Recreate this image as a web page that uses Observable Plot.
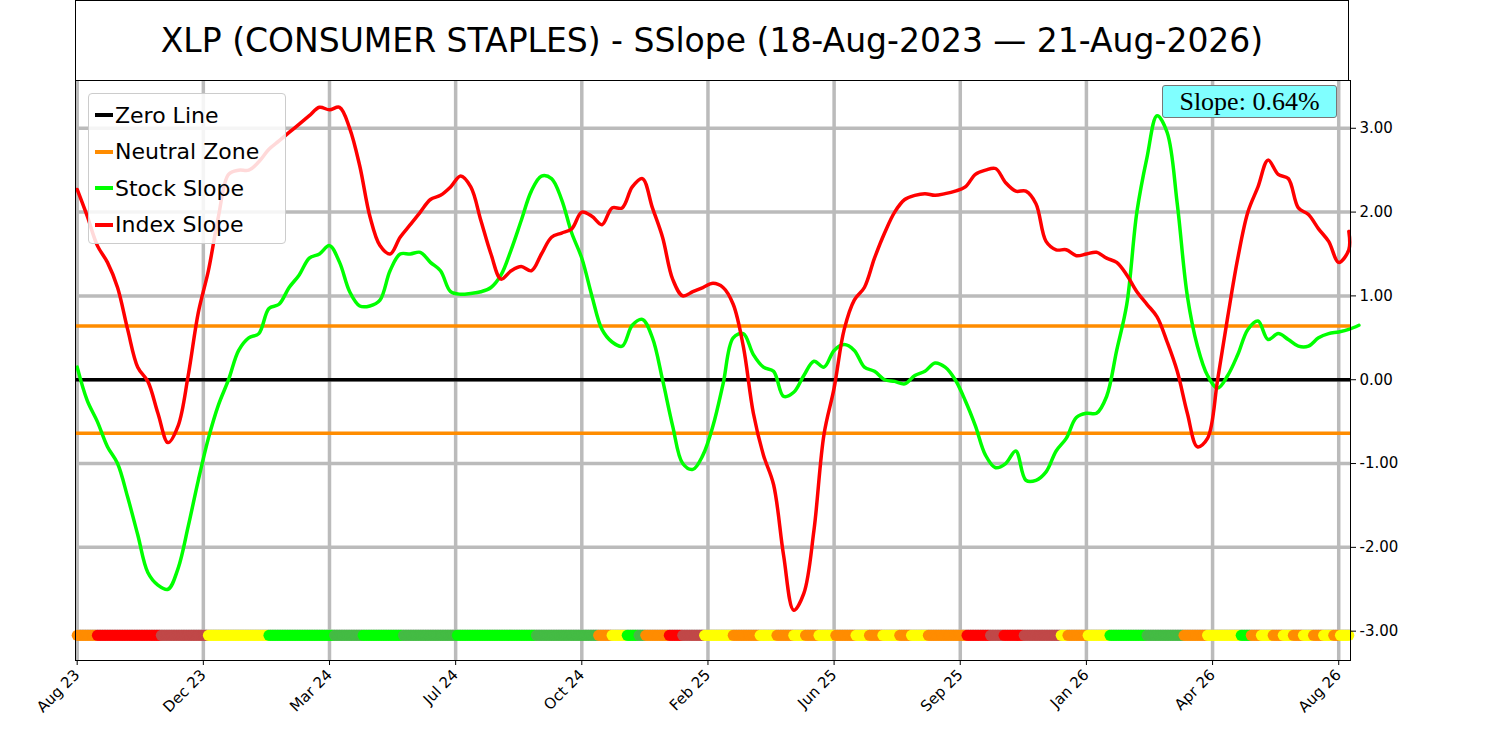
<!DOCTYPE html>
<html><head><meta charset="utf-8">
<script src="https://cdn.jsdelivr.net/npm/d3@7"></script>
<script src="https://cdn.jsdelivr.net/npm/@observablehq/plot@0.6"></script>
<style>
body{margin:0;background:#fff;font-family:"DejaVu Sans",sans-serif;}
#wrap{position:relative;width:1500px;height:741px;}
#title{position:absolute;left:75px;top:0;width:1274px;height:80px;border:1px solid #000;border-bottom:none;box-sizing:border-box;display:flex;align-items:center;justify-content:center;font-size:33px;z-index:2;}
#legend{position:absolute;left:88px;top:93px;width:198px;height:151px;border:1px solid #ccc;border-radius:4px;background:rgba(255,255,255,0.85);font-size:22px;box-sizing:border-box;padding:3px 0 0 6px;z-index:2;}
#legend div{height:36.5px;display:flex;align-items:center;}
#legend span.sw{display:inline-block;width:18px;height:4px;margin-right:2px;}
#slope{position:absolute;left:1162px;top:85px;width:175px;height:33px;background:#80ffff;border:1px solid #777;border-radius:3px;box-sizing:border-box;font-family:"Liberation Serif",serif;font-size:26px;display:flex;align-items:center;justify-content:center;z-index:2;}
svg{position:absolute;left:0;top:0;}
</style></head><body>
<div id="wrap"><div id="title">XLP (CONSUMER STAPLES) - SSlope (18-Aug-2023 — 21-Aug-2026)</div></div>
<script>
const step = 6;
const indexSlope = [2.27,1.95,1.60,1.40,1.10,0.60,0.15,-0.02,-0.40,-0.75,-0.55,0.05,0.80,1.30,1.95,2.45,2.50,2.50,2.60,2.75,2.85,2.95,3.05,3.15,3.25,3.22,3.25,3.00,2.55,1.95,1.60,1.50,1.70,1.85,2.00,2.15,2.20,2.30,2.43,2.30,1.90,1.50,1.20,1.30,1.35,1.30,1.50,1.70,1.75,1.80,2.00,1.95,1.85,2.05,2.05,2.30,2.40,2.05,1.70,1.20,1.00,1.05,1.10,1.15,1.10,0.90,0.40,-0.40,-0.90,-1.25,-2.10,-2.75,-2.55,-1.80,-0.65,-0.10,0.60,0.95,1.10,1.45,1.75,2.00,2.15,2.20,2.22,2.20,2.22,2.25,2.30,2.45,2.50,2.52,2.35,2.25,2.25,2.10,1.65,1.55,1.55,1.48,1.50,1.52,1.45,1.40,1.25,1.05,0.90,0.75,0.45,0.10,-0.40,-0.80,-0.70,0.00,0.75,1.45,2.00,2.30,2.62,2.45,2.40,2.05,1.97,1.80,1.65,1.40,1.55,1.77,1.77];
const stockSlope = [0.15,-0.25,-0.50,-0.80,-1.00,-1.40,-1.85,-2.30,-2.45,-2.50,-2.25,-1.75,-1.20,-0.70,-0.30,0.00,0.35,0.50,0.55,0.85,0.90,1.10,1.25,1.45,1.50,1.60,1.40,1.05,0.88,0.88,0.95,1.30,1.50,1.50,1.52,1.40,1.30,1.05,1.02,1.03,1.05,1.10,1.25,1.55,1.90,2.25,2.43,2.40,2.15,1.75,1.45,1.00,0.60,0.45,0.40,0.65,0.72,0.50,0.00,-0.55,-1.00,-1.07,-0.90,-0.55,-0.05,0.50,0.55,0.30,0.15,0.10,-0.20,-0.15,0.05,0.22,0.15,0.35,0.42,0.35,0.15,0.10,0.00,-0.02,-0.05,0.05,0.10,0.20,0.15,0.00,-0.25,-0.55,-0.90,-1.05,-1.00,-0.85,-1.20,-1.20,-1.10,-0.85,-0.70,-0.45,-0.40,-0.40,-0.20,0.35,0.90,2.00,2.65,3.15,2.95,2.10,1.00,0.40,0.05,-0.10,0.05,0.30,0.60,0.70,0.48,0.55,0.48,0.40,0.40,0.50,0.55,0.57,0.60,0.65];
const neutral = 0.64;
const tickLabels = ["Aug 23","Dec 23","Mar 24","Jul 24","Oct 24","Feb 25","Jun 25","Sep 25","Jan 26","Apr 26","Aug 26"];
const tickSpacing = 75;
const yTicks = [-3,-2,-1,0,1,2,3];
const stripRuns = [["o",11],["r",49],["b",77],["y",113],["g",152],["d",169],["g",193],["d",225],["g",272],["d",309],["o",317],["y",326],["g",333],["d",337],["o",351],["r",359],["b",372],["y",389],["o",405],["y",415],["o",425],["y",432],["o",440],["y",450],["o",462],["y",470],["o",478],["y",488],["o",495],["y",505],["o",528],["r",542],["b",550],["r",562],["b",584],["y",588],["o",600],["y",613],["g",635],["d",657],["o",671],["y",691],["g",697],["o",703],["y",710],["o",716],["y",722],["o",728],["y",734],["o",740],["y",746],["o",750],["y",756]];
const stripColors = {o:"#ff8c00",r:"#ff0000",b:"#c04848",y:"#ffff00",g:"#00ff00",d:"#44bb44"};

const red = indexSlope.map((v,i)=>({x:Math.min(i*step,756),v}));
const green = stockSlope.map((v,i)=>({x:i*step,v}));
const strip = [];
let s=0;
for (const [c,e] of stripRuns){ for(let i=s;i<=e;i++) strip.push({x:i,c:stripColors[c]}); s=e+1; }
const xt = tickLabels.map((_,i)=>i*tickSpacing);

const chart = Plot.plot({
  width:1500, height:741,
  marginTop:80, marginBottom:81, marginLeft:75, marginRight:150,
  x:{domain:[-1,757], axis:null},
  y:{domain:[-3.35,3.57], axis:null},
  style:{fontFamily:"DejaVu Sans", fontSize:"15px", color:"#000"},
  marks:[
    Plot.ruleY(yTicks,{stroke:"#bbb",strokeWidth:3.5}),
    Plot.ruleX(xt,{stroke:"#bbb",strokeWidth:3.5}),
    Plot.ruleY([neutral,-neutral],{stroke:"#ff8c00",strokeWidth:3.5}),
    Plot.ruleY([0],{stroke:"#000",strokeWidth:3.5}),
    Plot.line(green,{x:"x",y:"v",stroke:"#00ff00",strokeWidth:3.5,curve:"catmull-rom"}),
    Plot.line(red,{x:"x",y:"v",stroke:"#ff0000",strokeWidth:3.5,curve:"catmull-rom"}),
    Plot.dot(strip,{x:"x",y:-3.05,r:5.5,fill:"c",stroke:null}),
    Plot.axisY(yTicks,{anchor:"right",label:null,tickFormat:d=>d.toFixed(2),tickSize:5,tickPadding:4,fontSize:15}),
    Plot.axisX(xt,{anchor:"bottom",label:null,tickFormat:(d,i)=>tickLabels[i],tickRotate:-45,tickSize:5,fontSize:15,textAnchor:"end"}),
    Plot.frame({stroke:"#000"})
  ]
});
const wrap=document.getElementById("wrap");
wrap.prepend(chart);
wrap.insertAdjacentHTML("beforeend",`<div id="legend">
<div><span class="sw" style="background:#000"></span>Zero Line</div>
<div><span class="sw" style="background:#ff8c00"></span>Neutral Zone</div>
<div><span class="sw" style="background:#00ff00"></span>Stock Slope</div>
<div><span class="sw" style="background:#ff0000"></span>Index Slope</div></div>
<div id="slope">Slope: ${neutral.toFixed(2)}%</div>`);
</script></body></html>
